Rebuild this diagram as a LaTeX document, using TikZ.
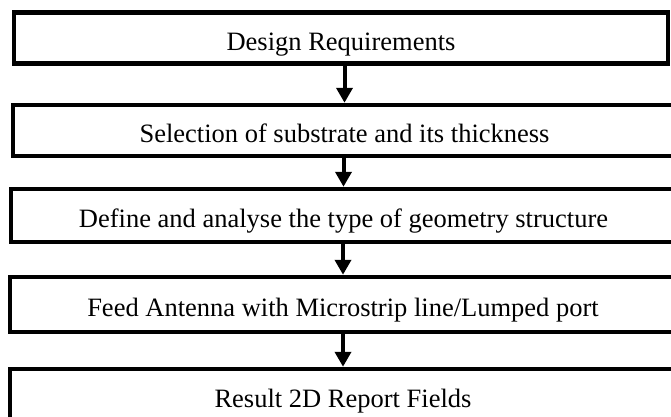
\documentclass[tikz,border=0pt]{standalone}
\usepackage{fontspec}
\setmainfont{Liberation Serif}
\usetikzlibrary{arrows.meta,positioning}
\tikzset{
  stepbox/.style = {draw=black, line width=4.5pt, fill=white, inner sep=0pt,
                    text height=24pt, text depth=0pt,
                    font=\fontsize{26.5}{30}\selectfont},
  flow/.style    = {line width=4pt, -{Triangle[length=15pt, width=16pt]}},
}

\begin{document}
\begin{tikzpicture}[x=1pt, y=-1pt]
    \useasboundingbox (0,0) rectangle (671,416);
    \clip (0,0) rectangle (671,416);

    \node[stepbox, minimum width=654pt, minimum height=51pt] (design)
        at (341,38) {Design Requirements};
    \node[stepbox, minimum width=663pt, minimum height=51pt] (substrate)
        at (344.5,130.5) {Selection of substrate and its thickness};
    \node[stepbox, minimum width=665pt, minimum height=53pt] (geometry)
        at (343.5,215.5) {Define and analyse the type of geometry structure};
    \node[stepbox, minimum width=666pt, minimum height=55pt] (feed)
        at (343,304.5) {Feed Antenna with Microstrip line/Lumped port};
    \node[stepbox, minimum width=666pt, minimum height=53pt] (result)
        at (343,395.5) {Result 2D Report Fields};

    % arrows run down the middle of the lower box
    \draw[flow] (design.south -| substrate.north) -- (substrate.north);
    \draw[flow] (substrate.south -| geometry.north) -- (geometry.north);
    \draw[flow] (geometry.south -| feed.north) -- (feed.north);
    \draw[flow] (feed.south -| result.north) -- (result.north);
\end{tikzpicture}
\end{document}
